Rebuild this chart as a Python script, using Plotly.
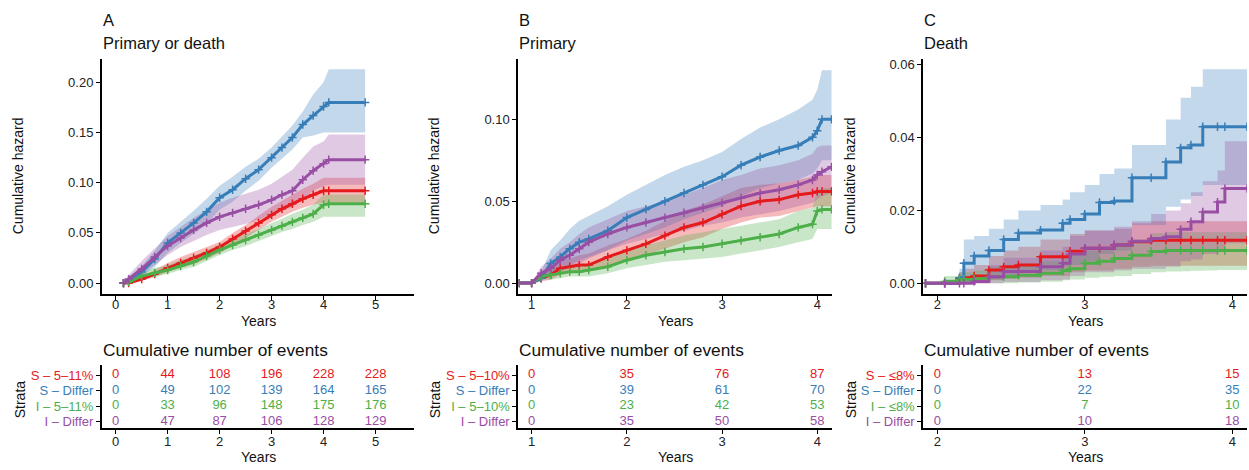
import plotly.graph_objects as go

# ---------------- colours / names ----------------
COLORS = ["#E41A1C", "#377EB8", "#4DAF4A", "#984EA3"]
STRATA_A = ["S – 5–11%", "S – Differ", "I – 5–11%", "I – Differ"]
STRATA_B = ["S – 5–10%", "S – Differ", "I – 5–10%", "I – Differ"]
STRATA_C = ["S – ≤8%", "S – Differ", "I – ≤8%", "I – Differ"]

# ---------------- Panel A : Primary or death ----------------
tA = [0.15, 0.25, 0.5, 0.75, 1.0, 1.25, 1.5, 1.75, 2.0, 2.25, 2.5, 2.75, 3.0, 3.2, 3.4, 3.6, 3.8, 4.0, 4.1, 4.8]
A_red_est = [0, 0, 0.004, 0.009, 0.015, 0.020, 0.025, 0.030, 0.036, 0.044, 0.052, 0.060, 0.068, 0.074, 0.079, 0.084, 0.088, 0.092, 0.092, 0.092]
A_red_hi = [0, 0, 0.007, 0.013, 0.020, 0.026, 0.031, 0.036, 0.041, 0.050, 0.058, 0.067, 0.076, 0.082, 0.088, 0.094, 0.099, 0.105, 0.105, 0.105]
A_red_lo = [0, 0, 0.002, 0.006, 0.011, 0.015, 0.019, 0.024, 0.030, 0.037, 0.045, 0.053, 0.061, 0.066, 0.071, 0.075, 0.078, 0.080, 0.080, 0.080]
A_blue_est = [0, 0.003, 0.011, 0.024, 0.040, 0.050, 0.060, 0.071, 0.085, 0.093, 0.104, 0.113, 0.125, 0.135, 0.145, 0.158, 0.167, 0.176, 0.180, 0.180]
A_blue_hi = [0, 0.006, 0.017, 0.032, 0.050, 0.061, 0.072, 0.084, 0.097, 0.106, 0.116, 0.124, 0.135, 0.146, 0.157, 0.171, 0.188, 0.200, 0.213, 0.213]
A_blue_lo = [0, 0.001, 0.006, 0.016, 0.030, 0.040, 0.049, 0.059, 0.073, 0.081, 0.092, 0.102, 0.115, 0.124, 0.133, 0.145, 0.147, 0.150, 0.150, 0.150]
A_green_est = [0, 0.001, 0.007, 0.010, 0.013, 0.017, 0.021, 0.027, 0.033, 0.038, 0.043, 0.048, 0.053, 0.057, 0.061, 0.065, 0.069, 0.078, 0.079, 0.079]
A_green_hi = [0, 0.003, 0.011, 0.015, 0.018, 0.023, 0.027, 0.033, 0.038, 0.044, 0.049, 0.054, 0.060, 0.064, 0.069, 0.073, 0.078, 0.088, 0.088, 0.088]
A_green_lo = [0, 0, 0.004, 0.006, 0.009, 0.013, 0.016, 0.022, 0.028, 0.033, 0.037, 0.042, 0.047, 0.051, 0.054, 0.058, 0.061, 0.066, 0.066, 0.066]
A_purple_est = [0, 0.004, 0.014, 0.026, 0.037, 0.045, 0.053, 0.060, 0.066, 0.070, 0.074, 0.078, 0.083, 0.088, 0.092, 0.103, 0.112, 0.119, 0.123, 0.123]
A_purple_hi = [0, 0.008, 0.022, 0.035, 0.047, 0.056, 0.065, 0.073, 0.080, 0.085, 0.089, 0.093, 0.099, 0.106, 0.113, 0.125, 0.136, 0.141, 0.148, 0.148]
A_purple_lo = [0, 0.001, 0.008, 0.018, 0.028, 0.036, 0.042, 0.048, 0.053, 0.056, 0.059, 0.063, 0.068, 0.072, 0.076, 0.084, 0.092, 0.097, 0.098, 0.098]

# ---------------- Panel B : Primary ----------------
tB = [0.87, 1.0, 1.1, 1.2, 1.3, 1.4, 1.5, 1.6, 1.8, 2.0, 2.2, 2.4, 2.6, 2.8, 3.0, 3.2, 3.4, 3.6, 3.8, 3.95, 4.0, 4.05, 4.15]
B_red_est = [0, 0, 0.003, 0.005, 0.009, 0.010, 0.011, 0.011, 0.016, 0.020, 0.024, 0.029, 0.034, 0.037, 0.042, 0.047, 0.050, 0.051, 0.054, 0.055, 0.056, 0.056, 0.056]
B_red_hi = [0, 0, 0.006, 0.009, 0.014, 0.015, 0.017, 0.018, 0.023, 0.027, 0.032, 0.038, 0.044, 0.048, 0.053, 0.058, 0.060, 0.061, 0.063, 0.065, 0.065, 0.066, 0.066]
B_red_lo = [0, 0, 0.001, 0.002, 0.005, 0.006, 0.007, 0.007, 0.010, 0.014, 0.017, 0.021, 0.025, 0.028, 0.033, 0.037, 0.040, 0.041, 0.044, 0.046, 0.047, 0.047, 0.047]
B_blue_est = [0, 0, 0.003, 0.012, 0.016, 0.021, 0.025, 0.027, 0.032, 0.040, 0.045, 0.050, 0.055, 0.060, 0.065, 0.072, 0.077, 0.081, 0.084, 0.089, 0.093, 0.100, 0.100]
B_blue_hi = [0, 0, 0.007, 0.020, 0.026, 0.033, 0.038, 0.041, 0.047, 0.054, 0.060, 0.066, 0.071, 0.075, 0.080, 0.088, 0.095, 0.100, 0.106, 0.112, 0.118, 0.130, 0.130]
B_blue_lo = [0, 0, 0.001, 0.006, 0.008, 0.011, 0.014, 0.016, 0.020, 0.026, 0.030, 0.034, 0.039, 0.043, 0.047, 0.053, 0.058, 0.061, 0.063, 0.067, 0.070, 0.075, 0.075]
B_green_est = [0, 0, 0.004, 0.005, 0.006, 0.007, 0.007, 0.008, 0.010, 0.014, 0.017, 0.019, 0.021, 0.022, 0.024, 0.026, 0.028, 0.030, 0.034, 0.036, 0.044, 0.045, 0.045]
B_green_hi = [0, 0, 0.007, 0.008, 0.010, 0.011, 0.011, 0.012, 0.015, 0.020, 0.023, 0.026, 0.029, 0.031, 0.033, 0.035, 0.037, 0.039, 0.044, 0.046, 0.056, 0.058, 0.058]
B_green_lo = [0, 0, 0.002, 0.002, 0.003, 0.004, 0.004, 0.004, 0.006, 0.009, 0.011, 0.013, 0.014, 0.015, 0.016, 0.018, 0.020, 0.022, 0.025, 0.027, 0.033, 0.033, 0.033]
B_purple_est = [0, 0, 0.006, 0.009, 0.014, 0.017, 0.021, 0.025, 0.030, 0.034, 0.037, 0.040, 0.043, 0.046, 0.049, 0.052, 0.055, 0.057, 0.060, 0.063, 0.066, 0.068, 0.071]
B_purple_hi = [0, 0, 0.010, 0.015, 0.021, 0.025, 0.030, 0.034, 0.039, 0.044, 0.047, 0.050, 0.054, 0.058, 0.063, 0.066, 0.070, 0.072, 0.075, 0.079, 0.083, 0.084, 0.084]
B_purple_lo = [0, 0, 0.002, 0.004, 0.007, 0.009, 0.012, 0.015, 0.020, 0.024, 0.027, 0.030, 0.032, 0.035, 0.037, 0.040, 0.042, 0.044, 0.047, 0.049, 0.051, 0.053, 0.055]

# ---------------- Panel C : Death ----------------
tC = [1.92, 2.05, 2.15, 2.18, 2.25, 2.35, 2.45, 2.55, 2.7, 2.85, 2.9, 3.0, 3.1, 3.2, 3.32, 3.45, 3.55, 3.65, 3.72, 3.8, 3.9, 3.95, 4.1]
C_red_est = [0, 0, 0.0012, 0.0015, 0.002, 0.0036, 0.0045, 0.005, 0.0073, 0.0073, 0.0088, 0.0096, 0.0096, 0.0105, 0.0114, 0.0118, 0.0118, 0.0118, 0.0118, 0.0118, 0.0118, 0.0118, 0.0118]
C_red_hi = [0, 0, 0.003, 0.004, 0.005, 0.0075, 0.009, 0.010, 0.012, 0.012, 0.0135, 0.0145, 0.0145, 0.015, 0.0165, 0.017, 0.017, 0.017, 0.017, 0.017, 0.017, 0.017, 0.017]
C_red_lo = [0, 0, 0, 0, 0, 0.0008, 0.0012, 0.0015, 0.002, 0.002, 0.003, 0.0035, 0.0035, 0.004, 0.0045, 0.0048, 0.0048, 0.0048, 0.0048, 0.0048, 0.0048, 0.0048, 0.0048]
C_blue_est = [0, 0, 0.0015, 0.0055, 0.0075, 0.009, 0.012, 0.0138, 0.0146, 0.0165, 0.0175, 0.019, 0.0222, 0.0226, 0.029, 0.029, 0.0333, 0.0372, 0.038, 0.043, 0.043, 0.043, 0.043]
C_blue_hi = [0, 0.001, 0.004, 0.012, 0.013, 0.015, 0.0175, 0.020, 0.0215, 0.023, 0.025, 0.027, 0.030, 0.0315, 0.038, 0.038, 0.045, 0.051, 0.054, 0.0588, 0.0588, 0.0588, 0.0588]
C_blue_lo = [0, 0, 0, 0, 0.0005, 0.001, 0.002, 0.003, 0.0035, 0.0045, 0.005, 0.006, 0.008, 0.009, 0.016, 0.016, 0.021, 0.023, 0.024, 0.027, 0.027, 0.027, 0.027]
C_green_est = [0, 0.0005, 0.001, 0.001, 0.0012, 0.0018, 0.0018, 0.0022, 0.0027, 0.0035, 0.004, 0.0055, 0.006, 0.0068, 0.0077, 0.0087, 0.009, 0.009, 0.009, 0.009, 0.009, 0.009, 0.009]
C_green_hi = [0, 0.002, 0.003, 0.003, 0.0035, 0.0045, 0.0045, 0.005, 0.006, 0.007, 0.008, 0.009, 0.010, 0.011, 0.012, 0.0137, 0.014, 0.014, 0.014, 0.014, 0.014, 0.014, 0.014]
C_green_lo = [0, 0, 0, 0, 0, 0, 0, 0.0002, 0.0004, 0.0008, 0.001, 0.0015, 0.0018, 0.002, 0.0025, 0.003, 0.0032, 0.0033, 0.0034, 0.0035, 0.0036, 0.0036, 0.0036]
C_purple_est = [0, 0, 0, 0, 0.0005, 0.0018, 0.0032, 0.0032, 0.0045, 0.0055, 0.008, 0.0096, 0.0096, 0.0105, 0.0115, 0.0123, 0.0128, 0.0148, 0.0169, 0.0196, 0.0223, 0.026, 0.026]
C_purple_hi = [0, 0, 0.001, 0.001, 0.002, 0.005, 0.007, 0.007, 0.009, 0.010, 0.013, 0.0145, 0.0145, 0.0155, 0.017, 0.019, 0.020, 0.022, 0.025, 0.028, 0.031, 0.039, 0.039]
C_purple_lo = [0, 0, 0, 0, 0, 0, 0.0003, 0.0003, 0.0008, 0.001, 0.002, 0.003, 0.003, 0.0035, 0.004, 0.004, 0.0045, 0.006, 0.0065, 0.008, 0.009, 0.011, 0.011]

# ---------------- Risk tables (cumulative number of events) ----------------
yearsA = [0, 1, 2, 3, 4, 5]
evA_red = [0, 44, 108, 196, 228, 228]
evA_blue = [0, 49, 102, 139, 164, 165]
evA_green = [0, 33, 96, 148, 175, 176]
evA_purple = [0, 47, 87, 106, 128, 129]

yearsB = [1, 2, 3, 4]
evB_red = [0, 35, 76, 87]
evB_blue = [0, 39, 61, 70]
evB_green = [0, 23, 42, 53]
evB_purple = [0, 35, 50, 58]

yearsC = [2, 3, 4]
evC_red = [0, 13, 15]
evC_blue = [0, 22, 35]
evC_green = [0, 7, 10]
evC_purple = [0, 10, 18]

# ---------------- figure ----------------
W, H = 1249, 470
FONT = "Liberation Sans, Arial, Helvetica, sans-serif"

def px_x(p):
    return p / W

def px_y(p):
    return 1 - p / H

def rgba(hexc, a):
    h = hexc.lstrip("#")
    r, g, b = int(h[0:2], 16), int(h[2:4], 16), int(h[4:6], 16)
    return f"rgba({r},{g},{b},{a})"

fig = go.Figure()

# (x axis, y axis, times, series, curve shape)
panels = [
    ("x", "y", tA, [(A_red_est, A_red_lo, A_red_hi), (A_blue_est, A_blue_lo, A_blue_hi),
                    (A_green_est, A_green_lo, A_green_hi), (A_purple_est, A_purple_lo, A_purple_hi)], "linear"),
    ("x2", "y2", tB, [(B_red_est, B_red_lo, B_red_hi), (B_blue_est, B_blue_lo, B_blue_hi),
                      (B_green_est, B_green_lo, B_green_hi), (B_purple_est, B_purple_lo, B_purple_hi)], "linear"),
    ("x3", "y3", tC, [(C_red_est, C_red_lo, C_red_hi), (C_blue_est, C_blue_lo, C_blue_hi),
                      (C_green_est, C_green_lo, C_green_hi), (C_purple_est, C_purple_lo, C_purple_hi)], "hv"),
]

# bands first
for xa, ya, t, series, shp in panels:
    for (est, lo, hi), col in zip(series, COLORS):
        fig.add_trace(go.Scatter(x=t, y=lo, xaxis=xa, yaxis=ya, mode="lines",
                                 line=dict(width=0, shape=shp, color=rgba(col, 0)),
                                 showlegend=False, hoverinfo="skip"))
        fig.add_trace(go.Scatter(x=t, y=hi, xaxis=xa, yaxis=ya, mode="lines",
                                 line=dict(width=0, shape=shp, color=rgba(col, 0)),
                                 fill="tonexty", fillcolor=rgba(col, 0.3),
                                 showlegend=False, hoverinfo="skip"))
# curves with censoring marks
for xa, ya, t, series, shp in panels:
    for (est, lo, hi), col in zip(series, COLORS):
        fig.add_trace(go.Scatter(x=t, y=est, xaxis=xa, yaxis=ya, mode="lines+markers",
                                 line=dict(width=3, shape=shp, color=col),
                                 marker=dict(symbol="cross-thin", size=6,
                                             line=dict(width=1.5, color=col), color=col),
                                 showlegend=False))

tables = [
    ("x4", "y4", yearsA, [evA_red, evA_blue, evA_green, evA_purple]),
    ("x5", "y5", yearsB, [evB_red, evB_blue, evB_green, evB_purple]),
    ("x6", "y6", yearsC, [evC_red, evC_blue, evC_green, evC_purple]),
]
rows = [4, 3, 2, 1]
for xa, ya, yrs, evs in tables:
    for ev, col, r in zip(evs, COLORS, rows):
        fig.add_trace(go.Scatter(x=yrs, y=[r] * len(yrs), xaxis=xa, yaxis=ya, mode="text",
                                 text=[str(v) for v in ev],
                                 textfont=dict(color=col, size=13, family=FONT),
                                 showlegend=False, hoverinfo="skip"))

axis_common = dict(showgrid=False, zeroline=False, showline=True, linecolor="black",
                   linewidth=2, ticks="outside", ticklen=4, tickwidth=1.3, tickcolor="black",
                   tickfont=dict(size=13, color="#222", family=FONT))

# pixel geometry
main_top, main_bot = 58, 294
tab_top, tab_bot = 366, 429
xdom = [(102, 414), (518.3, 832), (923.3, 1247)]
xr = [(-0.263, 5.74), (0.86, 4.155), (1.905, 4.1)]
yr = [(-0.0106, 0.2235), (-0.0065, 0.137), (-0.0029, 0.0617)]
ydt = [0.05, 0.05, 0.02]
xticks = [yearsA, yearsB, yearsC]
strata = [STRATA_A, STRATA_B, STRATA_C]
row_top_px, row_bot_px = 375.7, 422.3
step = (row_bot_px - row_top_px) / 3
tab_range = [1 - (tab_bot - row_bot_px) / step, 4 + (row_top_px - tab_top) / step]

layout = dict(width=W, height=H, margin=dict(l=0, r=0, t=0, b=0),
              paper_bgcolor="white", plot_bgcolor="white", showlegend=False,
              font=dict(family=FONT, color="#222"))
ann = []
for i in range(3):
    sx = "" if i == 0 else str(i + 1)
    st = str(i + 4)
    dom = [px_x(xdom[i][0]), px_x(xdom[i][1])]
    layout["xaxis" + sx] = dict(axis_common, domain=dom, range=list(xr[i]), anchor="y" + sx,
                                tickvals=xticks[i], ticklabelstandoff=-6)
    layout["yaxis" + sx] = dict(axis_common, domain=[px_y(main_bot), px_y(main_top)],
                                range=list(yr[i]), anchor="x" + sx, dtick=ydt[i], tick0=0,
                                tickformat=".2f")
    layout["xaxis" + st] = dict(axis_common, domain=dom, range=list(xr[i]), anchor="y" + st,
                                tickvals=xticks[i], ticklabelstandoff=-4)
    tt = [f'<span style="color:{c}">{s}</span>' for s, c in zip(strata[i], COLORS)]
    layout["yaxis" + st] = dict(axis_common, domain=[px_y(tab_bot), px_y(tab_top)],
                                range=tab_range, anchor="x" + st, tickvals=rows, ticktext=tt)
    xl = xdom[i][0]
    xc = (xdom[i][0] + xdom[i][1]) / 2
    letter = "ABC"[i]
    sub = ["Primary or death", "Primary", "Death"][i]
    ann += [
        dict(text=letter, x=px_x(xl - 1), y=px_y(19), xanchor="left", yanchor="middle",
             font=dict(size=16.5, color="#111")),
        dict(text=sub, x=px_x(xl - 1), y=px_y(42.5), xanchor="left", yanchor="middle",
             font=dict(size=16.5, color="#111")),
        dict(text="Cumulative number of events", x=px_x(xl - 1), y=px_y(350.5),
             xanchor="left", yanchor="middle", font=dict(size=17.3, color="#111")),
        dict(text="Years", x=px_x(xc), y=px_y(321), xanchor="center", yanchor="middle",
             font=dict(size=14, color="#111")),
        dict(text="Years", x=px_x(xc), y=px_y(457.5), xanchor="center", yanchor="middle",
             font=dict(size=14, color="#111")),
        dict(text="Cumulative hazard", x=px_x([18, 434, 850][i]), y=px_y(176),
             xanchor="center", yanchor="middle", textangle=-90,
             font=dict(size=14, color="#111")),
        dict(text="Strata", x=px_x([20, 435, 851][i]), y=px_y(400),
             xanchor="center", yanchor="middle", textangle=-90,
             font=dict(size=14, color="#111")),
    ]
for a in ann:
    a.update(xref="paper", yref="paper", showarrow=False)
layout["annotations"] = ann
fig.update_layout(**layout)

fig.write_html("out.html")
